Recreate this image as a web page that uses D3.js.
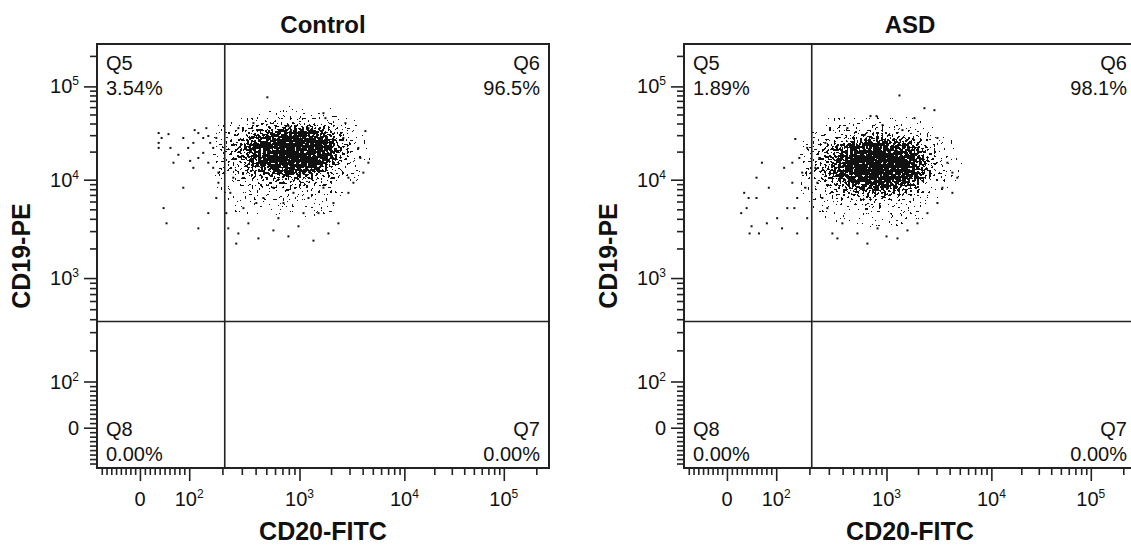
<!DOCTYPE html>
<html>
<head>
<meta charset="utf-8">
<script src="https://cdn.jsdelivr.net/npm/d3@7"></script>
<style>
  body { margin: 0; background: #fff; }
  text { font-family: "Liberation Sans", Arial, sans-serif; fill: #111; }
</style>
</head>
<body>
<svg id="chart" width="1131" height="546"></svg>
<script>
// ---- data ----
const panelTitles = ['Control', 'ASD'];
const quadrantNames = ['Q5', 'Q6', 'Q7', 'Q8'];
const controlPercents = ['3.54%', '96.5%', '0.00%', '0.00%'];
const asdPercents = ['1.89%', '98.1%', '0.00%', '0.00%'];

// gate positions (CD20, CD19)
const gateCD20 = 210;
const gateCD19 = 380;

// axis ticks
const majorTicks = [0, 1e2, 1e3, 1e4, 1e5];
const tickExponents = [null, 2, 3, 4, 5];
const minorTicks = [-80, -70, -60, -50, -40, -30, -20, -10, 10, 20, 30, 40, 50, 60, 70, 80, 90,
  200, 300, 400, 500, 600, 700, 800, 900,
  2000, 3000, 4000, 5000, 6000, 7000, 8000, 9000,
  20000, 30000, 40000, 50000, 60000, 70000, 80000, 90000, 200000];

// density of the dense core, log10 bins (rows = CD19 high->low, cols = CD20 low->high)
const controlBinsX = [2.3, 2.4, 2.5, 2.6, 2.7, 2.8, 2.9, 3.0, 3.1, 3.2, 3.3, 3.4, 3.5, 3.6];
const controlBinsY = [4.7, 4.6, 4.5, 4.4, 4.3, 4.2, 4.1, 4.0, 3.9, 3.8, 3.7];
const controlDensity = [
  [0, 0, 0, .04, .06, .07, .07, .07, .06, .04, .03, 0, 0, 0],
  [0, .04, .08, .13, .2, .27, .3, .3, .27, .22, .14, .06, .02, 0],
  [.09, .16, .3, .45, .6, .72, .8, .82, .78, .68, .48, .26, .08, .02],
  [.18, .28, .5, .72, .9, 1, 1, 1, 1, .94, .7, .4, .15, .04],
  [.2, .32, .55, .78, .96, 1, 1, 1, 1, 1, .76, .45, .17, .05],
  [.17, .28, .5, .72, .88, 1, 1, 1, 1, .88, .64, .35, .15, .04],
  [.11, .19, .34, .5, .64, .72, .78, .78, .72, .62, .42, .21, .07, .02],
  [.05, .09, .18, .27, .35, .4, .42, .42, .36, .29, .19, .08, .02, 0],
  [.02, .05, .08, .13, .17, .19, .2, .2, .17, .13, .08, .03, 0, 0],
  [0, .02, .04, .07, .08, .09, .09, .09, .08, .06, .04, 0, 0, 0],
  [0, .01, .03, .04, .05, .05, .05, .05, .04, .03, .02, 0, 0, 0]
];

const asdBinsX = [2.3, 2.4, 2.5, 2.6, 2.7, 2.8, 2.9, 3.0, 3.1, 3.2, 3.3, 3.4, 3.5, 3.6, 3.7];
const asdBinsY = [4.6, 4.5, 4.4, 4.3, 4.2, 4.1, 4.0, 3.9, 3.8, 3.7, 3.6];
const asdDensity = [
  [0, 0, .03, .05, .07, .08, .08, .07, .06, .05, .03, 0, 0, 0, 0],
  [0, .06, .12, .18, .24, .3, .3, .3, .24, .18, .12, .05, 0, 0, 0],
  [.07, .14, .26, .42, .55, .66, .72, .72, .66, .55, .38, .18, .06, .02, 0],
  [.14, .26, .45, .68, .86, .96, 1, 1, .96, .85, .62, .35, .12, .03, 0],
  [.18, .32, .56, .8, .98, 1, 1, 1, 1, .96, .72, .42, .17, .05, .02],
  [.18, .32, .56, .8, .98, 1, 1, 1, 1, .96, .72, .42, .17, .05, .02],
  [.14, .26, .44, .64, .8, .9, .96, .96, .9, .78, .54, .3, .11, .03, 0],
  [.07, .14, .26, .38, .5, .56, .6, .6, .54, .42, .3, .14, .05, 0, 0],
  [.02, .06, .12, .18, .23, .26, .28, .28, .23, .17, .11, .05, 0, 0, 0],
  [0, .02, .04, .07, .09, .11, .11, .11, .09, .06, .03, 0, 0, 0, 0],
  [0, 0, .02, .03, .04, .05, .05, .05, .04, .03, .02, 0, 0, 0, 0]
];

// individual events outside the core [CD20, CD19]
const controlEvents = [
  [38, 31600], [44, 28000], [58, 30800], [38, 24800], [121, 31600], [134, 28000], [149, 29400],
  [109, 24800], [165, 21900], [98, 21900], [134, 19400], [78, 18500], [121, 17100], [149, 15200],
  [165, 13400], [184, 11900], [88, 8280], [48, 5140], [54, 3600], [121, 3200], [149, 4570],
  [176, 6510], [184, 9310], [68, 15200], [109, 13400], [38, 21900], [155, 24800], [176, 28000],
  [143, 35700], [112, 34000], [88, 28000], [62, 21900], [102, 15900],
  [511, 76400], [1693, 51600], [1768, 45700], [2742, 40400], [4250, 33200], [3642, 21900],
  [4537, 15200], [4063, 11900], [3803, 17100], [226, 3200], [279, 2840], [424, 2530], [794, 2650],
  [1359, 2400], [344, 3600], [644, 4060], [979, 3360], [1517, 4570], [2107, 5790], [310, 5140],
  [470, 6510], [1218, 6510], [715, 5790], [217, 4570], [236, 7350], [2929, 7350], [3266, 9310],
  [2350, 3600], [279, 35700], [382, 40400], [794, 37500], [1218, 35700], [2620, 28000],
  [2929, 10500], [251, 10500], [580, 8280], [882, 7350], [1693, 8280], [406, 5790], [1092, 4570],
  [267, 2240], [1888, 2840], [580, 3050]
];

const asdEvents = [
  [149, 27300], [191, 21900], [162, 17100], [140, 15200], [118, 13400], [172, 11900], [60, 10500],
  [85, 8280], [60, 6510], [40, 5140], [29, 4570], [50, 3360], [46, 2840], [81, 3600], [102, 4060],
  [126, 5140], [155, 6510], [184, 8280], [140, 9310], [113, 3200], [155, 2840], [71, 15200],
  [191, 4060], [146, 5140], [35, 7350], [44, 6510], [65, 2840],
  [279, 24800], [632, 30100], [716, 48000], [812, 48000], [1330, 80000], [2300, 58400],
  [2865, 55600], [1848, 45700], [921, 38500], [4740, 10500], [4250, 11900], [3806, 15200],
  [3416, 8280], [359, 2530], [545, 2840], [830, 3200], [1273, 2530], [671, 2240], [398, 3600],
  [1974, 3600], [2457, 4570], [291, 5140], [262, 6510], [3060, 5790], [4250, 7350], [236, 9310],
  [226, 13400], [246, 17100], [442, 35700], [1420, 34000], [3060, 28000], [323, 2840],
  [1585, 3050], [1000, 2650]
];

// ---- layout ----
const W = 452, H = 424;
const panelLeft = [97, 684];
const panelTop = 44;

// biexponential-like display transform: linear below 100, log above
const T = v => v >= 100 ? Math.log10(v) : 2 + (v - 100) / (100 * Math.LN10);
const axisStops = [-90, 0, 1e2, 1e3, 1e4, 1e5, 262143];
const stopFrac = [0, .095, .204, .448, .68, .90, 1];

const xScale = d3.scaleLinear().domain(axisStops.map(T)).range(stopFrac.map(f => f * W));
const yScale = d3.scaleLinear().domain(axisStops.map(T)).range(stopFrac.map(f => H - f * H));
const xs = v => xScale(T(v));
const ys = v => yScale(T(v));

const svg = d3.select('#chart');

// stipple filter: turns the smooth density into dot-like speckle
let filter = svg.append('defs').append('filter').attr('id', 'stipple')
  .attr('filterUnits', 'userSpaceOnUse')
  .attr('x', 0).attr('y', 0).attr('width', W).attr('height', H)
  .attr('color-interpolation-filters', 'sRGB');
filter.append('feGaussianBlur').attr('in', 'SourceAlpha').attr('stdDeviation', 3).attr('result', 'dens');
filter.append('feTurbulence').attr('type', 'fractalNoise').attr('baseFrequency', 0.42)
  .attr('numOctaves', 1).attr('seed', 4).attr('result', 'noise');
filter.append('feComponentTransfer').attr('in', 'noise').attr('result', 'noiseS')
  .append('feFuncA').attr('type', 'linear').attr('slope', 2.6).attr('intercept', -0.8);
filter.append('feComposite').attr('in', 'dens').attr('in2', 'noiseS').attr('operator', 'arithmetic')
  .attr('k1', 0).attr('k2', 1).attr('k3', -1).attr('k4', 0.49).attr('result', 'diff');
filter.append('feComponentTransfer').attr('in', 'diff').attr('result', 'mask')
  .append('feFuncA').attr('type', 'discrete').attr('tableValues', '0 1');
filter.append('feFlood').attr('flood-color', '#111').attr('result', 'ink');
filter.append('feComposite').attr('in', 'ink').attr('in2', 'mask').attr('operator', 'in');

let panels = [
  { title: panelTitles[0], percents: controlPercents, binsX: controlBinsX, binsY: controlBinsY, density: controlDensity, events: controlEvents },
  { title: panelTitles[1], percents: asdPercents, binsX: asdBinsX, binsY: asdBinsY, density: asdDensity, events: asdEvents }
];

panels.forEach((p, i) => {
  let g = svg.append('g').attr('transform', `translate(${panelLeft[i]},${panelTop})`);

  // title
  g.append('text').attr('x', W / 2).attr('y', -11).attr('text-anchor', 'middle')
    .attr('font-size', 24).attr('font-weight', 'bold').text(p.title);

  // density core
  let cells = [];
  p.binsY.forEach((by, r) => p.binsX.forEach((bx, c) => {
    if (p.density[r][c] > 0) cells.push({ bx, by, d: p.density[r][c] });
  }));
  g.append('g').attr('filter', 'url(#stipple)')
    .selectAll('rect').data(cells).join('rect')
    .attr('x', d => xs(Math.pow(10, d.bx - 0.05)))
    .attr('y', d => ys(Math.pow(10, d.by + 0.05)))
    .attr('width', d => xs(Math.pow(10, d.bx + 0.05)) - xs(Math.pow(10, d.bx - 0.05)))
    .attr('height', d => ys(Math.pow(10, d.by - 0.05)) - ys(Math.pow(10, d.by + 0.05)))
    .attr('fill', '#000')
    .attr('fill-opacity', d => d.d);

  // events
  g.append('g').selectAll('rect').data(p.events).join('rect')
    .attr('x', d => xs(d[0]) - 1)
    .attr('y', d => ys(d[1]) - 1)
    .attr('width', 2).attr('height', 2)
    .attr('fill', '#111');

  // gates
  g.append('line').attr('x1', xs(gateCD20)).attr('x2', xs(gateCD20)).attr('y1', 0).attr('y2', H)
    .attr('stroke', '#222').attr('stroke-width', 1.6);
  g.append('line').attr('x1', 0).attr('x2', W).attr('y1', ys(gateCD19)).attr('y2', ys(gateCD19))
    .attr('stroke', '#222').attr('stroke-width', 1.6);

  // frame
  g.append('rect').attr('width', W).attr('height', H)
    .attr('fill', 'none').attr('stroke', '#222').attr('stroke-width', 2);

  // axes: major and minor ticks
  let xAxisG = g.append('g').attr('transform', `translate(0,${H})`);
  xAxisG.append('g').call(d3.axisBottom(xScale).tickValues(majorTicks.map(T)).tickSize(13).tickFormat(''));
  xAxisG.append('g').call(d3.axisBottom(xScale).tickValues(minorTicks.map(T)).tickSize(7).tickFormat(''));
  let yAxisG = g.append('g');
  yAxisG.append('g').call(d3.axisLeft(yScale).tickValues(majorTicks.map(T)).tickSize(13).tickFormat(''));
  yAxisG.append('g').call(d3.axisLeft(yScale).tickValues(minorTicks.map(T)).tickSize(7).tickFormat(''));
  g.selectAll('.domain').remove();
  g.selectAll('.tick line').attr('stroke', '#222').attr('stroke-width', 1.6);

  // tick labels
  majorTicks.forEach((v, k) => {
    let tx = g.append('text').attr('x', xs(v)).attr('y', H + 38)
      .attr('text-anchor', 'middle').attr('font-size', 20);
    let ty = g.append('text').attr('x', -18).attr('y', ys(v) + 7)
      .attr('text-anchor', 'end').attr('font-size', 20);
    [tx, ty].forEach(t => {
      if (tickExponents[k] === null) { t.text('0'); return; }
      t.append('tspan').text('10');
      t.append('tspan').attr('font-size', 12).attr('dy', -8).text(tickExponents[k]);
    });
  });

  // axis titles
  g.append('text').attr('x', W / 2).attr('y', H + 72).attr('text-anchor', 'middle')
    .attr('font-size', 25).attr('font-weight', 'bold').text('CD20-FITC');
  g.append('text').attr('transform', `translate(-67,${H / 2}) rotate(-90)`)
    .attr('text-anchor', 'middle').attr('font-size', 25).attr('font-weight', 'bold').text('CD19-PE');

  // quadrant labels
  let quad = [
    { n: 0, x: 9, y: 26, anchor: 'start' },
    { n: 1, x: W - 9, y: 26, anchor: 'end' },
    { n: 2, x: W - 9, y: H - 32, anchor: 'end' },
    { n: 3, x: 9, y: H - 32, anchor: 'start' }
  ];
  quad.forEach(q => {
    g.append('text').attr('x', q.x).attr('y', q.y).attr('text-anchor', q.anchor)
      .attr('font-size', 20).text(quadrantNames[q.n]);
    g.append('text').attr('x', q.x).attr('y', q.y + 25).attr('text-anchor', q.anchor)
      .attr('font-size', 20).text(p.percents[q.n]);
  });
});
</script>
</body>
</html>
